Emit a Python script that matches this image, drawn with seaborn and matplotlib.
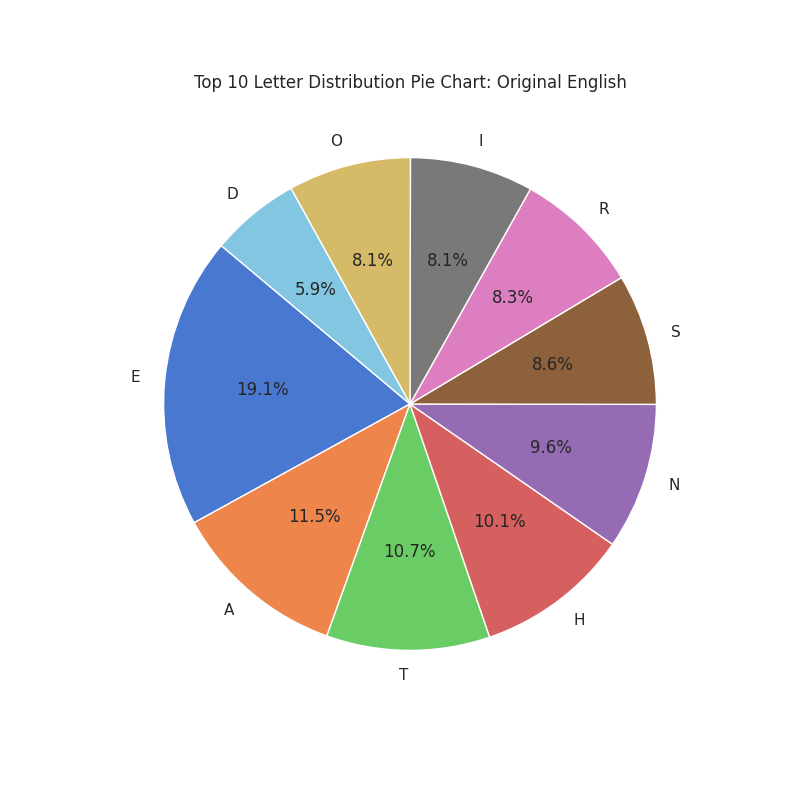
import matplotlib
matplotlib.use("Agg")
import matplotlib.pyplot as plt
import seaborn as sns

letters = ["E", "A", "T", "H", "N", "S", "R", "I", "O", "D"]
shares = [19.12, 11.52, 10.72, 10.12, 9.62, 8.6, 8.3, 8.1, 8.06, 5.86]

sns.set_theme(style="whitegrid")
colors = sns.color_palette("muted", len(letters))

fig, ax = plt.subplots(figsize=(8, 8), dpi=100)
ax.pie(shares, labels=letters, colors=colors, autopct="%1.1f%%",
       startangle=140, wedgeprops={"edgecolor": "white", "linewidth": 1})
ax.set_title("Top 10 Letter Distribution Pie Chart: Original English")
fig.savefig("out.png")
